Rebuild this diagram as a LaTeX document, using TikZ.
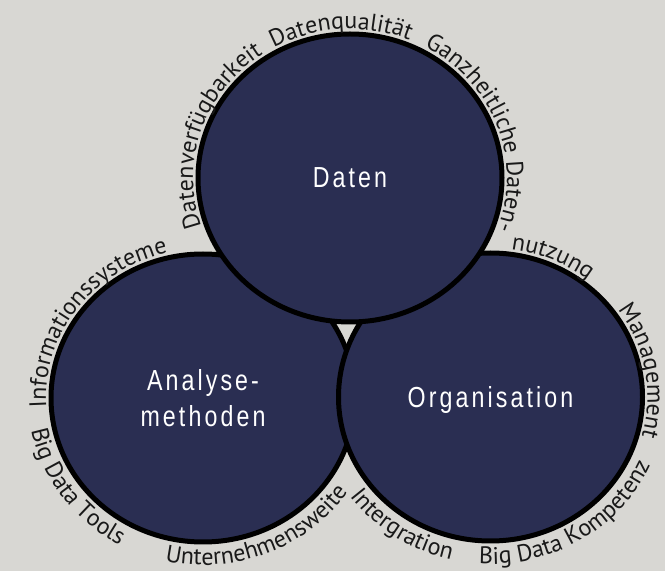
\documentclass[tikz,border=0pt]{standalone}
\usepackage{fontspec}
\usetikzlibrary{shapes.geometric,decorations.text}
\newfontfamily\innerfont[FakeStretch=0.8,LetterSpace=10.7]{Liberation Sans}
\newfontfamily\arcfont{PT Sans}
\newcommand\arcsty{\arcfont\fontsize{24}{28}\selectfont}
\definecolor{bg}{RGB}{216,215,211}
\definecolor{navy}{RGB}{42,46,82}
\definecolor{ink}{RGB}{25,25,25}
\begin{document}
\begin{tikzpicture}[x=1pt,y=1pt,
  bubble/.style={ellipse, draw=black, line width=5pt, fill=navy,
    minimum width=304pt, minimum height=288pt, inner sep=0pt, text depth=0pt,
    text=white, font=\innerfont\fontsize{29}{36}\selectfont, align=center},
  arctext/.style={decorate, decoration={text along path, text align=center,
    text color=ink, text={|\arcsty|#1}}}]
\fill[bg] (0,0) rectangle (665,571);
\useasboundingbox (0,0) rectangle (665,571);
\node[bubble] (L) at (203,173) {Analyse-\\methoden};
\node[bubble] (R) at (490.5,174) {Organisation};
\node[bubble] (T) at (350,393) {Daten};
% outer (clockwise) texts
\path (T.center) ++(216.5:157 and 149) coordinate (t1);
\path[arctext=Datenverfügbarkeit] (t1) arc[start angle=216.5, end angle=106.5, x radius=157, y radius=149];
\path (T.center) ++(148.5:157 and 149) coordinate (t2);
\path[arctext=Datenqualität] (t2) arc[start angle=148.5, end angle=38.5, x radius=157, y radius=149];
\path (T.center) ++(75.5:157 and 149) coordinate (t3);
\path[arctext={Ganzheitliche Daten-}] (t3) arc[start angle=75.5, end angle=-34.5, x radius=157, y radius=149];
\path (R.center) ++(116.5:157 and 149) coordinate (r1);
\path[arctext=nutzung] (r1) arc[start angle=116.5, end angle=16.5, x radius=157, y radius=149];
\path (R.center) ++(65:157 and 149) coordinate (r2);
\path[arctext=Management] (r2) arc[start angle=65, end angle=-45, x radius=157, y radius=149];
\path (L.center) ++(198.6:157 and 149) coordinate (l1);
\path[arctext=Informationssysteme] (l1) arc[start angle=198.6, end angle=88.6, x radius=157, y radius=149];
% inner (counter-clockwise) texts
\path (R.center) ++(-113.5:175 and 167) coordinate (r3);
\path[arctext={Big Data Kompetenz}] (r3) arc[start angle=-113.5, end angle=-3.5, x radius=175, y radius=167];
\path (R.center) ++(181:175 and 167) coordinate (r4);
\path[arctext=Intergration] (r4) arc[start angle=181, end angle=291, x radius=175, y radius=167];
\path (L.center) ++(160.7:175 and 167) coordinate (l2);
\path[arctext={Big Data Tools}] (l2) arc[start angle=160.7, end angle=270.7, x radius=175, y radius=167];
\path (L.center) ++(237:175 and 167) coordinate (l3);
\path[arctext=Unternehmensweite] (l3) arc[start angle=237, end angle=347, x radius=175, y radius=167];
\end{tikzpicture}
\end{document}
